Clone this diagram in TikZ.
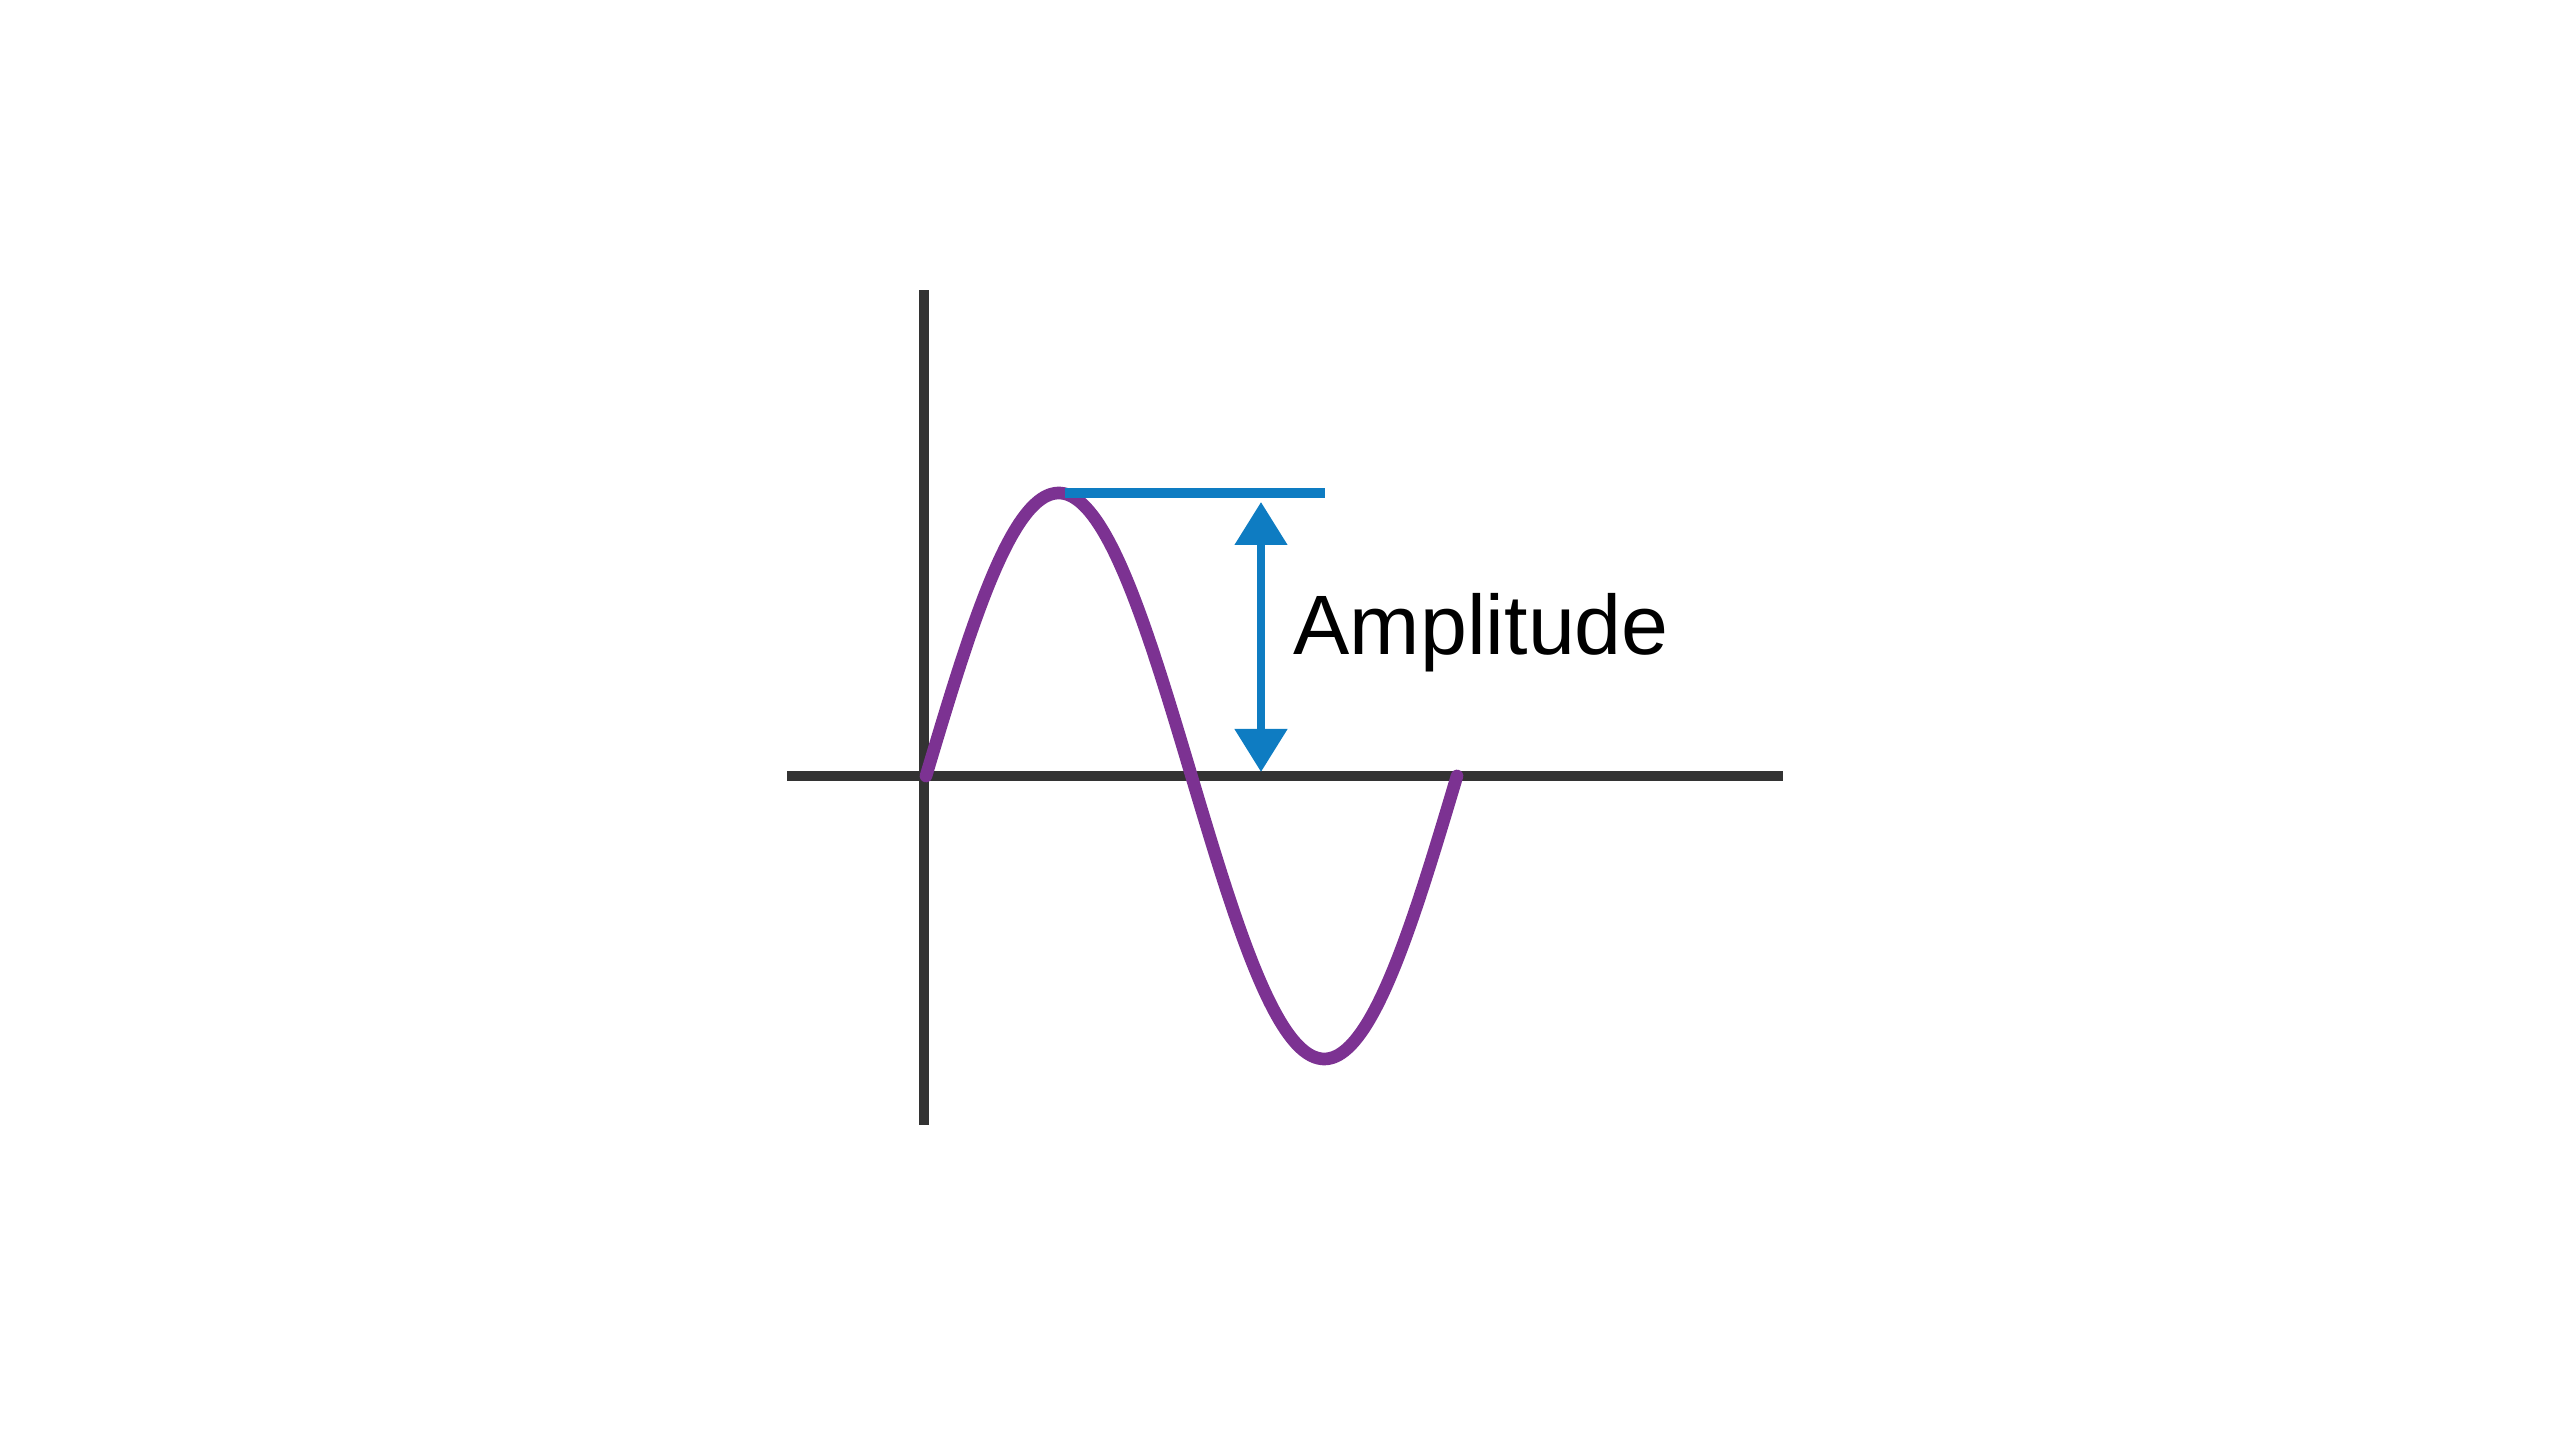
\documentclass[tikz,border=0pt]{standalone}
\usepackage{fontspec}
\setmainfont{Liberation Sans}
\usetikzlibrary{arrows.meta}
\definecolor{axisgray}{RGB}{51,51,51}
\definecolor{wavepurple}{RGB}{124,50,146}
\definecolor{ampblue}{RGB}{14,124,194}
\begin{document}
\begin{tikzpicture}[
  axis/.style={line width=3pt,axisgray},
  wave/.style={line width=3.6pt,wavepurple,line cap=round},
  ampline/.style={line width=3pt,ampblue},
  amparrow/.style={line width=2.3pt,ampblue,{Triangle[width=5.1mm,length=4.3mm]}-{Triangle[width=5.1mm,length=4.3mm]}}
]
\useasboundingbox (0,0) rectangle (25.6,14.4);
% Axes
\coordinate (O) at (9.24,6.64);
\coordinate (ytop) at (9.24,11.50);
\coordinate (ybot) at (9.24,3.15);
\coordinate (xleft) at (7.87,6.64);
\coordinate (xright) at (17.83,6.64);
\draw[axis] (ybot) -- (ytop);
\draw[axis] (xleft) -- (xright);

% Sine wave
\draw[wave,domain=0:360,samples=100,smooth]
  plot ({9.26+5.31*\x/360},{6.64+2.83*sin(\x)});

% Amplitude marker
\coordinate (peak) at (10.65,9.47);
\coordinate (peakend) at (13.25,9.47);
\draw[ampline] (peak) -- (peakend);
\coordinate (atop) at (12.61,9.38);
\coordinate (abot) at (12.61,6.68);
\draw[amparrow] (abot) -- (atop);
\node[anchor=base west,inner sep=0pt,font=\fontsize{24}{29}\selectfont] (amp) at (12.93,7.85) {Amplitude};
\end{tikzpicture}
\end{document}
